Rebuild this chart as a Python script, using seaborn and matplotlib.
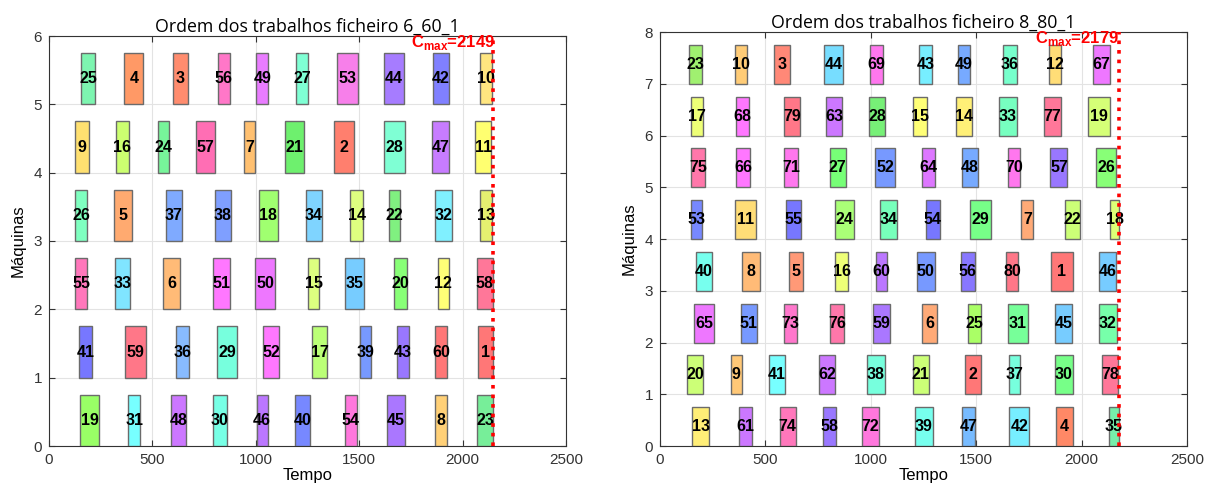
import matplotlib
matplotlib.use("Agg")
import matplotlib.pyplot as plt
import matplotlib.transforms as mtransforms
import numpy as np
import pandas as pd
import seaborn as sns

# ---------------- ficheiro 6_60_1 ----------------
cmax_a = 2149
jobs_a = [
    [19, 31, 48, 30, 46, 40, 54, 45, 8, 23],
    [41, 59, 36, 29, 52, 17, 39, 43, 60, 1],
    [55, 33, 6, 51, 50, 15, 35, 20, 12, 58],
    [26, 5, 37, 38, 18, 34, 14, 22, 32, 13],
    [9, 16, 24, 57, 7, 21, 2, 28, 47, 11],
    [25, 4, 3, 56, 49, 27, 53, 44, 42, 10],
]
start_a = [
    [150, 382, 590, 793, 1004, 1191, 1430, 1633, 1868, 2070],
    [147, 367, 614, 812, 1036, 1270, 1502, 1683, 1866, 2073],
    [127, 321, 551, 795, 998, 1254, 1433, 1667, 1881, 2068],
    [127, 314, 564, 801, 1015, 1241, 1457, 1646, 1865, 2083],
    [127, 325, 529, 711, 943, 1141, 1378, 1621, 1853, 2061],
    [156, 364, 598, 816, 1003, 1193, 1393, 1621, 1857, 2086],
]
end_a = [
    [242, 441, 661, 859, 1058, 1262, 1488, 1723, 1926, 2148],
    [209, 468, 678, 911, 1111, 1346, 1559, 1741, 1925, 2149],
    [185, 390, 635, 875, 1091, 1307, 1523, 1730, 1933, 2147],
    [184, 400, 643, 880, 1107, 1319, 1520, 1696, 1949, 2144],
    [195, 385, 582, 803, 995, 1233, 1476, 1720, 1936, 2137],
    [224, 456, 671, 875, 1061, 1254, 1493, 1715, 1933, 2142],
]

# ---------------- ficheiro 8_80_1 ----------------
cmax_b = 2179
jobs_b = [
    [13, 61, 74, 58, 72, 39, 47, 42, 4, 35],
    [20, 9, 41, 62, 38, 21, 2, 37, 30, 78],
    [65, 51, 73, 76, 59, 6, 25, 31, 45, 32],
    [40, 8, 5, 16, 60, 50, 56, 80, 1, 46],
    [53, 11, 55, 24, 34, 54, 29, 7, 22, 18],
    [75, 66, 71, 27, 52, 64, 48, 70, 57, 26],
    [17, 68, 79, 63, 28, 15, 14, 33, 77, 19],
    [23, 10, 3, 44, 69, 43, 49, 36, 12, 67],
]
start_b = [
    [152, 374, 569, 772, 960, 1210, 1432, 1656, 1877, 2129],
    [130, 336, 517, 756, 982, 1199, 1448, 1656, 1874, 2096],
    [162, 383, 586, 805, 1009, 1244, 1461, 1649, 1874, 2083],
    [171, 388, 613, 830, 1023, 1218, 1427, 1640, 1857, 2082],
    [147, 358, 600, 832, 1044, 1261, 1470, 1714, 1920, 2136],
    [147, 360, 588, 805, 1020, 1242, 1431, 1651, 1852, 2069],
    [147, 361, 588, 787, 990, 1199, 1404, 1606, 1822, 2031],
    [138, 358, 540, 776, 998, 1228, 1415, 1625, 1847, 2052],
]
end_b = [
    [234, 436, 643, 835, 1039, 1294, 1494, 1752, 1957, 2179],
    [203, 388, 594, 830, 1066, 1275, 1523, 1710, 1958, 2172],
    [258, 460, 651, 875, 1090, 1315, 1521, 1748, 1953, 2167],
    [247, 474, 678, 894, 1077, 1304, 1494, 1700, 1957, 2163],
    [201, 455, 670, 919, 1126, 1329, 1572, 1771, 1991, 2179],
    [215, 428, 657, 881, 1115, 1306, 1510, 1706, 1933, 2164],
    [204, 420, 664, 864, 1069, 1266, 1481, 1692, 1901, 2133],
    [198, 412, 619, 868, 1057, 1290, 1470, 1692, 1903, 2135],
]

# job colours, one list per machine
colors_a = [
    ["#99FF66", "#77FFFF", "#CC77FF", "#77FFE5", "#BB77FF", "#7788FF", "#FF77DD", "#AA77FF", "#FFD077", "#77EE99"],
    ["#7777FF", "#FF7788", "#88BBFF", "#77FFDD", "#FF77FF", "#BBFF77", "#7799FF", "#9977FF", "#FF7777", "#FF7777"],
    ["#FF77BB", "#80E5FF", "#FFBB77", "#FF77FF", "#EE77FF", "#DDFF80", "#77CCFF", "#88FF77", "#FFFF77", "#FF7799"],
    ["#7FFFC0", "#FFAA70", "#7FAAFF", "#7F9FFF", "#A0FF70", "#7FD4FF", "#DFFF80", "#80F080", "#80F0FF", "#E5F070"],
    ["#FFE070", "#CCFF70", "#77F59A", "#FF6EB4", "#FFC070", "#6EF06E", "#FF7F6E", "#7FFFD4", "#C77CFF", "#FFFF70"],
    ["#7DF5B0", "#FF9966", "#FF8C6E", "#FF77C8", "#E97CFF", "#7FFFD4", "#F77FEA", "#A67CFF", "#8080FF", "#FFE680"],
]
colors_b = [
    ["#FFEE77", "#CC77FF", "#FF77BB", "#9977FF", "#FF77DD", "#77FFEE", "#77BBFF", "#77EEFF", "#FF8866", "#77EEAA"],
    ["#CCFF77", "#FFC877", "#77FFFF", "#CC77FF", "#77FFDD", "#CCFF77", "#FF7777", "#77FFDD", "#77FF88", "#FF7799"],
    ["#EE77FF", "#7799FF", "#FF77CC", "#FF77AA", "#AA77FF", "#FFAA77", "#AAFF66", "#77FF99", "#77CCFF", "#77FFAA"],
    ["#77FFEE", "#FFBB77", "#FF9977", "#EEFF77", "#BB77FF", "#7799FF", "#8877FF", "#FF7788", "#FF7777", "#77CCFF"],
    ["#7788FF", "#FFDD77", "#7777FF", "#AAFF77", "#77FFBB", "#7777FF", "#77FF88", "#FFAA77", "#CCFF77", "#DDFF77"],
    ["#FF77AA", "#FF77FF", "#FF77EE", "#77FF77", "#7799FF", "#DD77FF", "#77AAFF", "#FF77EE", "#9977FF", "#88FF77"],
    ["#EEFF77", "#FF77FF", "#FF7788", "#CC77FF", "#77F077", "#FFFF77", "#FFF077", "#77FFC0", "#FF7799", "#D5FF77"],
    ["#A0F070", "#FFCC77", "#FF8877", "#77DDFF", "#FF77EE", "#77EEFF", "#77AAFF", "#77FFCC", "#FFDD77", "#EE77FF"],
]

sns.set_theme(style="whitegrid")
plt.rcParams["font.family"] = ["Liberation Sans", "DejaVu Sans"]
plt.rcParams["mathtext.fontset"] = "custom"
plt.rcParams["mathtext.rm"] = "Liberation Sans"
plt.rcParams["mathtext.bf"] = "Liberation Sans:bold"

AXCOL = "#333333"


def to_frame(jobs, starts, ends, colors):
    rows = []
    for m, (jr, sr, er, cr) in enumerate(zip(jobs, starts, ends, colors)):
        for j, s, e, c in zip(jr, sr, er, cr):
            rows.append({"maquina": m, "job": j, "inicio": s, "fim": e, "cor": c})
    return pd.DataFrame(rows)


def gantt(ax, df, n_maq, cmax, titulo):
    h = 0.75
    ax.barh(df["maquina"] + h / 2, df["fim"] - df["inicio"], left=df["inicio"],
            height=h, color=df["cor"], edgecolor="#6b6b6b", linewidth=1.0, zorder=3)
    for _, r in df.iterrows():
        ax.text((r["inicio"] + r["fim"]) / 2, r["maquina"] + h / 2, str(r["job"]),
                ha="center", va="center", fontsize=11.5, fontweight="bold",
                color="black", zorder=4)
    ax.plot([cmax, cmax], [0, n_maq], color="red", linestyle=":", linewidth=2.6, zorder=5)
    trans = mtransforms.blended_transform_factory(ax.transData, ax.transAxes)
    ax.text(cmax - 400, 0.985, r"$\mathbf{C}_{\mathbf{max}}$" + f"={cmax}", transform=trans,
            ha="left", va="center", color="red", fontsize=12, fontweight="bold", zorder=6)
    ax.set_xlim(0, 2500)
    ax.set_ylim(0, n_maq)
    ax.set_xticks(np.arange(0, 2501, 500))
    ax.set_yticks(np.arange(0, n_maq + 1, 1))
    ax.grid(True, color="#e3e3e3", linewidth=0.8, zorder=0)
    ax.set_axisbelow(True)
    ax.set_facecolor("white")
    for s in ax.spines.values():
        s.set_visible(True)
        s.set_color(AXCOL)
        s.set_linewidth(0.8)
    ax.tick_params(axis="both", direction="in", length=4, width=0.8, colors=AXCOL,
                   labelsize=11, top=True, right=True, bottom=True, left=True,
                   labelcolor=AXCOL, pad=5)
    ax.set_title(titulo, fontsize=12.8, family=["Open Sans", "DejaVu Sans"],
                 color="black", pad=3)
    ax.set_xlabel("Tempo", fontsize=12, color="black", labelpad=1)
    ax.set_ylabel("Máquinas", fontsize=12, color="black", labelpad=6)


fig = plt.figure(figsize=(12.16, 4.95), dpi=100)
ax1 = fig.add_axes([49 / 1216, 49 / 495, 517 / 1216, 410 / 495])
ax2 = fig.add_axes([660 / 1216, 49 / 495, 527 / 1216, 414 / 495])

gantt(ax1, to_frame(jobs_a, start_a, end_a, colors_a), 6, cmax_a,
      "Ordem dos trabalhos ficheiro 6_60_1")
gantt(ax2, to_frame(jobs_b, start_b, end_b, colors_b), 8, cmax_b,
      "Ordem dos trabalhos ficheiro 8_80_1")

fig.savefig("out.png", dpi=100, facecolor="white")
